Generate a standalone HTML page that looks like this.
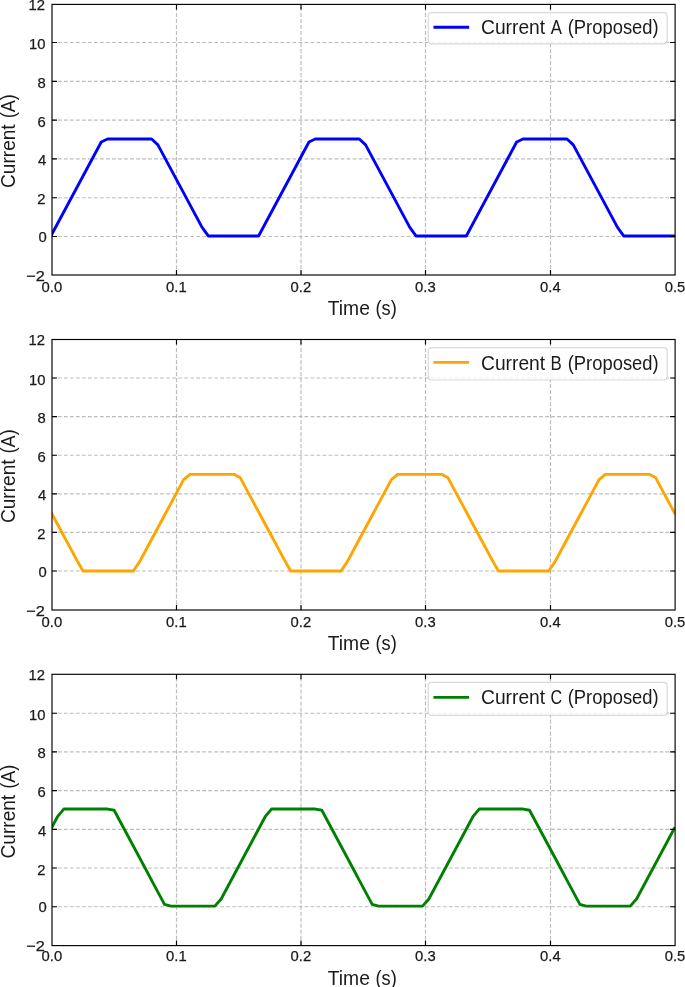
<!DOCTYPE html>
<html><head><meta charset="utf-8"><title>Currents</title>
<style>html,body{margin:0;padding:0;background:#fff;} svg{display:block;will-change:transform;}</style>
</head><body>
<svg width="685" height="987" viewBox="0 0 685 987">
<rect x="0" y="0" width="685" height="987" fill="#ffffff"/>
<defs>
<clipPath id="c0"><rect x="52.00" y="4.40" width="623.10" height="270.60"/></clipPath>
<clipPath id="c1"><rect x="52.00" y="339.50" width="623.10" height="270.50"/></clipPath>
<clipPath id="c2"><rect x="52.00" y="674.30" width="623.10" height="271.30"/></clipPath>
</defs>
<g stroke="#b0b0b0" stroke-opacity="0.85" stroke-width="1.15" fill="none"><g stroke-dasharray="4.2 1.806"><path d="M176.50 275.36V4.40"/><path d="M301.00 275.36V4.40"/><path d="M425.50 275.36V4.40"/><path d="M550.50 275.36V4.40"/></g><g stroke-dasharray="3.75 2.266"><path d="M51.87 236.50H675.10"/><path d="M51.87 197.70H675.10"/><path d="M51.87 158.90H675.10"/><path d="M51.87 120.10H675.10"/><path d="M51.87 81.30H675.10"/><path d="M51.87 42.50H675.10"/></g></g>
<polyline clip-path="url(#c0)" points="50.90,235.95 57.19,224.20 63.49,212.46 69.78,200.71 76.08,188.97 82.37,177.22 88.66,165.48 94.96,153.73 101.25,141.99 107.55,139.05 113.84,139.05 120.13,139.05 126.43,139.05 132.72,139.05 139.02,139.05 145.31,139.05 151.60,139.05 157.90,144.92 164.19,156.67 170.48,168.41 176.78,180.16 183.07,191.90 189.37,203.65 195.66,215.40 201.95,227.14 208.25,235.95 214.54,235.95 220.84,235.95 227.13,235.95 233.42,235.95 239.72,235.95 246.01,235.95 252.31,235.95 258.60,235.95 264.89,224.20 271.19,212.46 277.48,200.71 283.78,188.97 290.07,177.22 296.36,165.48 302.66,153.73 308.95,141.99 315.25,139.05 321.54,139.05 327.83,139.05 334.13,139.05 340.42,139.05 346.72,139.05 353.01,139.05 359.30,139.05 365.60,144.92 371.89,156.67 378.18,168.41 384.48,180.16 390.77,191.90 397.07,203.65 403.36,215.40 409.65,227.14 415.95,235.95 422.24,235.95 428.54,235.95 434.83,235.95 441.12,235.95 447.42,235.95 453.71,235.95 460.01,235.95 466.30,235.95 472.59,224.20 478.89,212.46 485.18,200.71 491.48,188.97 497.77,177.22 504.06,165.48 510.36,153.73 516.65,141.99 522.95,139.05 529.24,139.05 535.53,139.05 541.83,139.05 548.12,139.05 554.42,139.05 560.71,139.05 567.00,139.05 573.30,144.92 579.59,156.67 585.88,168.41 592.18,180.16 598.47,191.90 604.77,203.65 611.06,215.40 617.35,227.14 623.65,235.95 629.94,235.95 636.24,235.95 642.53,235.95 648.82,235.95 655.12,235.95 661.41,235.95 667.71,235.95 674.00,235.95" fill="none" stroke="#0000ff" stroke-width="2.87" stroke-linejoin="round" stroke-linecap="square"/>
<rect x="52.00" y="4.40" width="623.10" height="270.60" fill="none" stroke="#000" stroke-width="1.15"/>
<path d="M176.50 275.00v-5.0M176.50 4.40v5.0M301.00 275.00v-5.0M301.00 4.40v5.0M425.50 275.00v-5.0M425.50 4.40v5.0M550.50 275.00v-5.0M550.50 4.40v5.0M52.00 236.50h5.0M675.10 236.50h-5.0M52.00 197.70h5.0M675.10 197.70h-5.0M52.00 158.90h5.0M675.10 158.90h-5.0M52.00 120.10h5.0M675.10 120.10h-5.0M52.00 81.30h5.0M675.10 81.30h-5.0M52.00 42.50h5.0M675.10 42.50h-5.0" stroke="#000" stroke-width="1.15" fill="none"/>
<g font-family='"Liberation Sans", sans-serif' font-size="14.8" fill="#1a1a1a" stroke="#1a1a1a" stroke-width="0.25"><text x="26.28" y="280.51" textLength="18.64" lengthAdjust="spacingAndGlyphs">−2</text><text x="46.67" y="242.09" text-anchor="end">0</text><text x="45.46" y="204.36" text-anchor="end">2</text><text x="46.32" y="165.39" text-anchor="end">4</text><text x="45.65" y="126.59" text-anchor="end">6</text><text x="45.65" y="87.89" text-anchor="end">8</text><text x="45.39" y="49.04" text-anchor="end">10</text><text x="45.07" y="10.16" text-anchor="end">12</text><text x="51.90" y="292" text-anchor="middle">0.0</text><text x="176.40" y="292" text-anchor="middle">0.1</text><text x="300.90" y="292" text-anchor="middle">0.2</text><text x="425.40" y="292" text-anchor="middle">0.3</text><text x="550.40" y="292" text-anchor="middle">0.4</text><text x="675.00" y="292" text-anchor="middle">0.5</text></g>
<rect x="428.3" y="12.70" width="238.80" height="31.20" rx="3.4" ry="3.4" fill="#ffffff" fill-opacity="0.8" stroke="#cccccc" stroke-opacity="0.75" stroke-width="1.2"/>
<path d="M434.9 27.30H467.7" stroke="#0000ff" stroke-width="2.87" stroke-linecap="square"/>
<g font-family='"Liberation Sans", sans-serif' font-size="19.9" fill="#1a1a1a"><text x="327.72" y="314.50" textLength="42.16" lengthAdjust="spacingAndGlyphs">Time</text><text x="375.46" y="314.50" textLength="21.30" lengthAdjust="spacingAndGlyphs">(s)</text><text transform="translate(14.50 187.95) rotate(-90)" x="0" y="0" textLength="63.59" lengthAdjust="spacingAndGlyphs">Current</text><text transform="translate(14.50 118.33) rotate(-90)" x="0" y="0" textLength="24.18" lengthAdjust="spacingAndGlyphs">(A)</text><text x="481.00" y="33.80" textLength="64.14" lengthAdjust="spacingAndGlyphs">Current</text><text x="550.76" y="33.80" textLength="11.18" lengthAdjust="spacingAndGlyphs">A</text><text x="567.75" y="33.80" textLength="90.89" lengthAdjust="spacingAndGlyphs">(Proposed)</text></g>
<g stroke="#b0b0b0" stroke-opacity="0.85" stroke-width="1.15" fill="none"><g stroke-dasharray="4.2 1.806"><path d="M176.50 610.46V339.50"/><path d="M301.00 610.46V339.50"/><path d="M425.50 610.46V339.50"/><path d="M550.50 610.46V339.50"/></g><g stroke-dasharray="3.75 2.266"><path d="M51.87 571.00H675.10"/><path d="M51.87 532.40H675.10"/><path d="M51.87 493.80H675.10"/><path d="M51.87 455.20H675.10"/><path d="M51.87 416.60H675.10"/><path d="M51.87 378.00H675.10"/></g></g>
<polyline clip-path="url(#c1)" points="51.50,513.03 57.79,524.75 64.09,536.47 70.38,548.19 76.68,559.91 82.97,571.05 89.26,571.05 95.56,571.05 101.85,571.05 108.15,571.05 114.44,571.05 120.73,571.05 127.03,571.05 133.32,571.05 139.62,561.67 145.91,549.95 152.20,538.23 158.50,526.51 164.79,514.79 171.08,503.07 177.38,491.35 183.67,479.62 189.97,474.35 196.26,474.35 202.55,474.35 208.85,474.35 215.14,474.35 221.44,474.35 227.73,474.35 234.02,474.35 240.32,477.87 246.61,489.59 252.91,501.31 259.20,513.03 265.49,524.75 271.79,536.47 278.08,548.19 284.38,559.91 290.67,571.05 296.96,571.05 303.26,571.05 309.55,571.05 315.85,571.05 322.14,571.05 328.43,571.05 334.73,571.05 341.02,571.05 347.32,561.67 353.61,549.95 359.90,538.23 366.20,526.51 372.49,514.79 378.78,503.07 385.08,491.35 391.37,479.62 397.67,474.35 403.96,474.35 410.25,474.35 416.55,474.35 422.84,474.35 429.14,474.35 435.43,474.35 441.72,474.35 448.02,477.87 454.31,489.59 460.61,501.31 466.90,513.03 473.19,524.75 479.49,536.47 485.78,548.19 492.08,559.91 498.37,571.05 504.66,571.05 510.96,571.05 517.25,571.05 523.55,571.05 529.84,571.05 536.13,571.05 542.43,571.05 548.72,571.05 555.02,561.67 561.31,549.95 567.60,538.23 573.90,526.51 580.19,514.79 586.48,503.07 592.78,491.35 599.07,479.62 605.37,474.35 611.66,474.35 617.95,474.35 624.25,474.35 630.54,474.35 636.84,474.35 643.13,474.35 649.42,474.35 655.72,477.87 662.01,489.59 668.31,501.31 674.60,513.03" fill="none" stroke="#ffa500" stroke-width="2.87" stroke-linejoin="round" stroke-linecap="square"/>
<rect x="52.00" y="339.50" width="623.10" height="270.50" fill="none" stroke="#000" stroke-width="1.15"/>
<path d="M176.50 610.00v-5.0M176.50 339.50v5.0M301.00 610.00v-5.0M301.00 339.50v5.0M425.50 610.00v-5.0M425.50 339.50v5.0M550.50 610.00v-5.0M550.50 339.50v5.0M52.00 571.00h5.0M675.10 571.00h-5.0M52.00 532.40h5.0M675.10 532.40h-5.0M52.00 493.80h5.0M675.10 493.80h-5.0M52.00 455.20h5.0M675.10 455.20h-5.0M52.00 416.60h5.0M675.10 416.60h-5.0M52.00 378.00h5.0M675.10 378.00h-5.0" stroke="#000" stroke-width="1.15" fill="none"/>
<g font-family='"Liberation Sans", sans-serif' font-size="14.8" fill="#1a1a1a" stroke="#1a1a1a" stroke-width="0.25"><text x="26.28" y="615.51" textLength="18.64" lengthAdjust="spacingAndGlyphs">−2</text><text x="46.67" y="576.59" text-anchor="end">0</text><text x="45.46" y="539.06" text-anchor="end">2</text><text x="46.32" y="500.29" text-anchor="end">4</text><text x="45.65" y="461.69" text-anchor="end">6</text><text x="45.65" y="423.19" text-anchor="end">8</text><text x="45.39" y="384.54" text-anchor="end">10</text><text x="45.07" y="345.26" text-anchor="end">12</text><text x="51.90" y="627" text-anchor="middle">0.0</text><text x="176.40" y="627" text-anchor="middle">0.1</text><text x="300.90" y="627" text-anchor="middle">0.2</text><text x="425.40" y="627" text-anchor="middle">0.3</text><text x="550.40" y="627" text-anchor="middle">0.4</text><text x="675.00" y="627" text-anchor="middle">0.5</text></g>
<rect x="428.3" y="347.60" width="238.80" height="32.40" rx="3.4" ry="3.4" fill="#ffffff" fill-opacity="0.8" stroke="#cccccc" stroke-opacity="0.75" stroke-width="1.2"/>
<path d="M434.9 362.40H467.7" stroke="#ffa500" stroke-width="2.87" stroke-linecap="square"/>
<g font-family='"Liberation Sans", sans-serif' font-size="19.9" fill="#1a1a1a"><text x="327.72" y="650.20" textLength="42.16" lengthAdjust="spacingAndGlyphs">Time</text><text x="375.46" y="650.20" textLength="21.30" lengthAdjust="spacingAndGlyphs">(s)</text><text transform="translate(14.50 523.05) rotate(-90)" x="0" y="0" textLength="63.59" lengthAdjust="spacingAndGlyphs">Current</text><text transform="translate(14.50 453.43) rotate(-90)" x="0" y="0" textLength="24.18" lengthAdjust="spacingAndGlyphs">(A)</text><text x="481.00" y="369.50" textLength="64.14" lengthAdjust="spacingAndGlyphs">Current</text><text x="550.61" y="369.50" textLength="11.27" lengthAdjust="spacingAndGlyphs">B</text><text x="567.75" y="369.50" textLength="90.89" lengthAdjust="spacingAndGlyphs">(Proposed)</text></g>
<g stroke="#b0b0b0" stroke-opacity="0.85" stroke-width="1.15" fill="none"><g stroke-dasharray="4.2 1.806"><path d="M176.50 945.86V674.30"/><path d="M301.00 945.86V674.30"/><path d="M425.50 945.86V674.30"/><path d="M550.50 945.86V674.30"/></g><g stroke-dasharray="3.75 2.266"><path d="M51.87 906.70H675.10"/><path d="M51.87 868.00H675.10"/><path d="M51.87 829.30H675.10"/><path d="M51.87 790.60H675.10"/><path d="M51.87 751.90H675.10"/><path d="M51.87 713.20H675.10"/></g></g>
<polyline clip-path="url(#c2)" points="51.20,828.46 57.49,816.70 63.79,809.05 70.08,809.05 76.38,809.05 82.67,809.05 88.96,809.05 95.26,809.05 101.55,809.05 107.85,809.05 114.14,810.23 120.43,821.99 126.73,833.75 133.02,845.52 139.32,857.28 145.61,869.04 151.90,880.81 158.20,892.57 164.49,904.34 170.78,906.10 177.08,906.10 183.37,906.10 189.67,906.10 195.96,906.10 202.25,906.10 208.55,906.10 214.84,906.10 221.14,899.04 227.43,887.28 233.72,875.51 240.02,863.75 246.31,851.99 252.61,840.22 258.90,828.46 265.19,816.70 271.49,809.05 277.78,809.05 284.08,809.05 290.37,809.05 296.66,809.05 302.96,809.05 309.25,809.05 315.55,809.05 321.84,810.23 328.13,821.99 334.43,833.75 340.72,845.52 347.02,857.28 353.31,869.04 359.60,880.81 365.90,892.57 372.19,904.34 378.48,906.10 384.78,906.10 391.07,906.10 397.37,906.10 403.66,906.10 409.95,906.10 416.25,906.10 422.54,906.10 428.84,899.04 435.13,887.28 441.42,875.51 447.72,863.75 454.01,851.99 460.31,840.22 466.60,828.46 472.89,816.70 479.19,809.05 485.48,809.05 491.78,809.05 498.07,809.05 504.36,809.05 510.66,809.05 516.95,809.05 523.25,809.05 529.54,810.23 535.83,821.99 542.13,833.75 548.42,845.52 554.72,857.28 561.01,869.04 567.30,880.81 573.60,892.57 579.89,904.34 586.18,906.10 592.48,906.10 598.77,906.10 605.07,906.10 611.36,906.10 617.65,906.10 623.95,906.10 630.24,906.10 636.54,899.04 642.83,887.28 649.12,875.51 655.42,863.75 661.71,851.99 668.01,840.22 674.30,828.46" fill="none" stroke="#008000" stroke-width="2.87" stroke-linejoin="round" stroke-linecap="square"/>
<rect x="52.00" y="674.30" width="623.10" height="271.30" fill="none" stroke="#000" stroke-width="1.15"/>
<path d="M176.50 945.60v-5.0M176.50 674.30v5.0M301.00 945.60v-5.0M301.00 674.30v5.0M425.50 945.60v-5.0M425.50 674.30v5.0M550.50 945.60v-5.0M550.50 674.30v5.0M52.00 906.70h5.0M675.10 906.70h-5.0M52.00 868.00h5.0M675.10 868.00h-5.0M52.00 829.30h5.0M675.10 829.30h-5.0M52.00 790.60h5.0M675.10 790.60h-5.0M52.00 751.90h5.0M675.10 751.90h-5.0M52.00 713.20h5.0M675.10 713.20h-5.0" stroke="#000" stroke-width="1.15" fill="none"/>
<g font-family='"Liberation Sans", sans-serif' font-size="14.8" fill="#1a1a1a" stroke="#1a1a1a" stroke-width="0.25"><text x="26.28" y="951.11" textLength="18.64" lengthAdjust="spacingAndGlyphs">−2</text><text x="46.67" y="912.29" text-anchor="end">0</text><text x="45.46" y="874.66" text-anchor="end">2</text><text x="46.32" y="835.79" text-anchor="end">4</text><text x="45.65" y="797.09" text-anchor="end">6</text><text x="45.65" y="758.49" text-anchor="end">8</text><text x="45.39" y="719.74" text-anchor="end">10</text><text x="45.07" y="680.06" text-anchor="end">12</text><text x="51.90" y="961" text-anchor="middle">0.0</text><text x="176.40" y="961" text-anchor="middle">0.1</text><text x="300.90" y="961" text-anchor="middle">0.2</text><text x="425.40" y="961" text-anchor="middle">0.3</text><text x="550.40" y="961" text-anchor="middle">0.4</text><text x="675.00" y="961" text-anchor="middle">0.5</text></g>
<rect x="428.3" y="682.30" width="238.80" height="33.00" rx="3.4" ry="3.4" fill="#ffffff" fill-opacity="0.8" stroke="#cccccc" stroke-opacity="0.75" stroke-width="1.2"/>
<path d="M434.9 697.40H467.7" stroke="#008000" stroke-width="2.87" stroke-linecap="square"/>
<g font-family='"Liberation Sans", sans-serif' font-size="19.9" fill="#1a1a1a"><text x="327.72" y="984.90" textLength="42.16" lengthAdjust="spacingAndGlyphs">Time</text><text x="375.46" y="984.90" textLength="21.30" lengthAdjust="spacingAndGlyphs">(s)</text><text transform="translate(14.50 858.45) rotate(-90)" x="0" y="0" textLength="63.59" lengthAdjust="spacingAndGlyphs">Current</text><text transform="translate(14.50 788.83) rotate(-90)" x="0" y="0" textLength="24.18" lengthAdjust="spacingAndGlyphs">(A)</text><text x="481.00" y="703.90" textLength="64.14" lengthAdjust="spacingAndGlyphs">Current</text><text x="550.59" y="703.90" textLength="11.65" lengthAdjust="spacingAndGlyphs">C</text><text x="567.75" y="703.90" textLength="90.89" lengthAdjust="spacingAndGlyphs">(Proposed)</text></g>
</svg>
</body></html>
